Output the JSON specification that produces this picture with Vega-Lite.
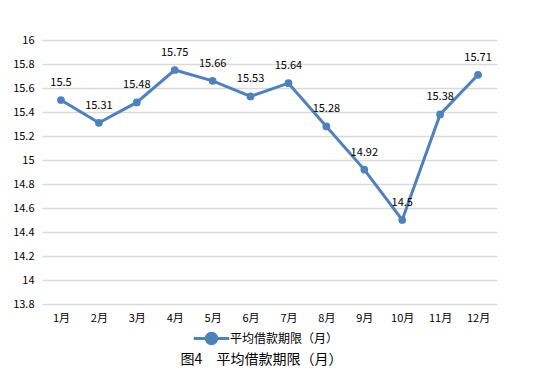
{
  "$schema": "https://vega.github.io/schema/vega-lite/v6.json",
  "width": 455,
  "height": 264,
  "autosize": {"type": "none"},
  "padding": {"left": 42, "top": 40, "right": 51, "bottom": 86},
  "background": "white",
  "title": {
    "text": "图4\u3000平均借款期限（月）",
    "orient": "bottom",
    "anchor": "middle",
    "dx": -8,
    "font": "Noto Sans CJK SC",
    "fontSize": 14,
    "fontWeight": "normal",
    "color": "#000000",
    "offset": 3
  },
  "data": {
    "values": [
      {"month": "1月", "value": 15.5, "series": "平均借款期限（月）"},
      {"month": "2月", "value": 15.31, "series": "平均借款期限（月）"},
      {"month": "3月", "value": 15.48, "series": "平均借款期限（月）"},
      {"month": "4月", "value": 15.75, "series": "平均借款期限（月）"},
      {"month": "5月", "value": 15.66, "series": "平均借款期限（月）"},
      {"month": "6月", "value": 15.53, "series": "平均借款期限（月）"},
      {"month": "7月", "value": 15.64, "series": "平均借款期限（月）"},
      {"month": "8月", "value": 15.28, "series": "平均借款期限（月）"},
      {"month": "9月", "value": 14.92, "series": "平均借款期限（月）"},
      {"month": "10月", "value": 14.5, "series": "平均借款期限（月）"},
      {"month": "11月", "value": 15.38, "series": "平均借款期限（月）"},
      {"month": "12月", "value": 15.71, "series": "平均借款期限（月）"}
    ]
  },
  "encoding": {
    "x": {
      "field": "month",
      "type": "ordinal",
      "sort": null,
      "scale": {"type": "point", "padding": 0.5},
      "axis": {
        "title": null,
        "labelAngle": 0,
        "domain": false,
        "ticks": false,
        "labelPadding": 8,
        "labelFont": "Noto Sans CJK SC",
        "labelFontSize": 11,
        "labelColor": "#000000"
      }
    },
    "y": {
      "field": "value",
      "type": "quantitative",
      "scale": {"domain": [13.8, 16], "nice": false, "zero": false},
      "axis": {
        "title": null,
        "values": [13.8, 14, 14.2, 14.4, 14.6, 14.8, 15, 15.2, 15.4, 15.6, 15.8, 16],
        "format": "~f",
        "domain": false,
        "ticks": false,
        "labelPadding": 8,
        "labelFont": "Noto Sans CJK SC",
        "labelFontSize": 11,
        "labelColor": "#000000",
        "gridColor": "#D9D9D9",
        "gridWidth": 1.5
      }
    }
  },
  "layer": [
    {
      "mark": {"type": "line", "strokeWidth": 3, "point": {"filled": true, "size": 60}},
      "encoding": {
        "color": {
          "field": "series",
          "type": "nominal",
          "scale": {"range": ["#4F81BD"]},
          "legend": {
            "title": null,
            "orient": "none",
            "legendX": 155,
            "legendY": 284,
            "direction": "horizontal",
            "symbolType": "M-1.4,0L1.4,0M-0.42,0A0.42,0.42 0 1 0 0.42,0A0.42,0.42 0 1 0 -0.42,0",
            "symbolSize": 640,
            "symbolStrokeWidth": 3,
            "symbolFillColor": "#4F81BD",
            "symbolStrokeColor": "#4F81BD",
            "labelFont": "Noto Sans CJK SC",
            "labelFontSize": 12,
            "labelColor": "#000000",
            "labelOffset": 4
          }
        }
      }
    },
    {
      "mark": {"type": "text", "dy": -17, "font": "Noto Sans CJK SC", "fontSize": 11, "color": "#000000"},
      "encoding": {"text": {"field": "value", "type": "quantitative"}}
    }
  ],
  "config": {"view": {"stroke": null}}
}
